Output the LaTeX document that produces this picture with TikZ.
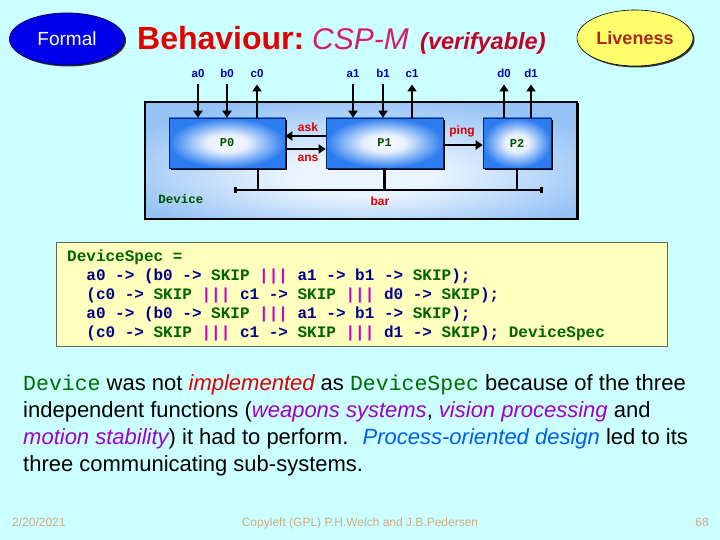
\documentclass[tikz,border=0pt]{standalone}
\usepackage{fontspec}
\setmainfont{Liberation Sans}
\setmonofont{Liberation Mono}
\usetikzlibrary{arrows.meta,shapes.geometric,shadows}
\definecolor{bg}{RGB}{204,255,255}
\definecolor{formalblue}{RGB}{0,0,235}
\definecolor{formalborder}{RGB}{0,0,90}
\definecolor{liveyellow}{RGB}{255,255,110}
\definecolor{livered}{RGB}{170,40,20}
\definecolor{titlered}{RGB}{228,0,0}
\definecolor{cspm}{RGB}{215,30,100}
\definecolor{verred}{RGB}{195,0,40}
\definecolor{navy}{RGB}{0,0,170}
\definecolor{pblue}{RGB}{45,125,240}
\definecolor{pborder}{RGB}{0,40,120}
\definecolor{devblue}{RGB}{150,195,245}
\definecolor{devlight}{RGB}{235,245,255}
\definecolor{pgreen}{RGB}{0,80,0}
\definecolor{lblred}{RGB}{220,0,0}
\definecolor{specyellow}{RGB}{255,255,190}
\definecolor{specgreen}{RGB}{0,100,0}
\definecolor{specnavy}{RGB}{0,0,140}
\definecolor{specmag}{RGB}{200,0,200}
\definecolor{bodygreen}{RGB}{0,110,0}
\definecolor{bodyred}{RGB}{220,0,0}
\definecolor{bodypurple}{RGB}{160,0,200}
\definecolor{bodyblue}{RGB}{0,95,230}
\definecolor{footc}{RGB}{210,170,130}
\pgfdeclareradialshading{pshade}{\pgfpoint{0bp}{0bp}}{color(0bp)=(white); color(9bp)=(white!88!pblue); color(25bp)=(pblue); color(50bp)=(pblue)}
\pgfdeclareradialshading{dshade}{\pgfpoint{0bp}{-8bp}}{color(0bp)=(devlight); color(8bp)=(devlight); color(30bp)=(devblue); color(50bp)=(devblue)}
\newcommand{\spG}[1]{\textcolor{specgreen}{#1}}
\newcommand{\spN}[1]{\textcolor{specnavy}{#1}}
\newcommand{\spM}[1]{\textcolor{specmag}{#1}}
\begin{document}
\begin{tikzpicture}[x=1pt,y=-1pt,
  pbox/.style={draw=pborder, line width=0.6pt, shading=pshade, minimum height=50pt, inner sep=0pt,
    font=\ttfamily\bfseries\fontsize{12}{14}\selectfont, text=pgreen,
    drop shadow={shadow xshift=2pt, shadow yshift=-2pt, fill=black, opacity=1}},
  chlab/.style={font=\bfseries\fontsize{11.5}{12}\selectfont, text=navy, inner sep=1pt, text height=8.5pt, text depth=0pt},
  chan/.style={line width=2.6pt, -{Triangle[width=9pt,length=7pt]}},
  wire/.style={line width=2.6pt},
  redlab/.style={font=\bfseries\fontsize{12}{14}\selectfont, text=lblred, inner sep=1pt},
  specline/.style={anchor=base west, inner sep=0pt, font=\ttfamily\bfseries\fontsize{16}{18}\selectfont},
  bodyline/.style={anchor=base west, inner sep=0pt, font=\fontsize{22}{24}\selectfont},
  foot/.style={inner sep=0pt, font=\fontsize{12}{14}\selectfont, text=footc}]
\fill[bg] (0,0) rectangle (720,540);
\useasboundingbox (0,0) rectangle (720,540);

% header
\node[ellipse, draw=formalborder, line width=0.8pt, fill=formalblue, minimum width=115pt, minimum height=52pt,
  inner sep=0pt, text=white, font=\fontsize{19}{22}\selectfont,
  drop shadow={shadow xshift=1.5pt, shadow yshift=-1.5pt, fill=black!80, opacity=1}] (formal) at (67,39) {Formal};
\node[anchor=base west, inner sep=0pt, text=titlered, font=\bfseries\fontsize{32}{36}\selectfont] (t1) at (137,50) {Behaviour:};
\node[anchor=base west, inner sep=0pt, text=cspm, font=\itshape\fontsize{30}{34}\selectfont] (t2) at (312,50) {CSP-M};
\node[anchor=base west, inner sep=0pt, text=verred, font=\bfseries\itshape\fontsize{23.5}{26}\selectfont] (t3) at (420,50) {(verifyable)};
\node[ellipse, draw=black, line width=0.6pt, fill=liveyellow, minimum width=116pt, minimum height=56pt,
  inner sep=0pt, text=livered, font=\bfseries\fontsize{18}{20}\selectfont,
  drop shadow={shadow xshift=1.5pt, shadow yshift=-1.5pt, fill=black!80, opacity=1}] (live) at (635,38) {Liveness};

% device
\node[draw=black, line width=1.5pt, shading=dshade, minimum width=432pt, minimum height=117pt, inner sep=0pt,
  drop shadow={shadow xshift=1.5pt, shadow yshift=-1.5pt, fill=black, opacity=1}] (dev) at (361,160.5) {};
\node[pbox, minimum width=116pt] (P0) at (227,143) {P0};
\node[pbox, minimum width=117pt] (P1) at (384.5,143) {P1};
\node[pbox, minimum width=68pt] (P2) at (517,143) {P2};

% channel labels
\node[chlab] (la0) at (198,73) {a0};
\node[chlab] (lb0) at (227,73) {b0};
\node[chlab] (lc0) at (257,73) {c0};
\node[chlab] (la1) at (353,73) {a1};
\node[chlab] (lb1) at (383,73) {b1};
\node[chlab] (lc1) at (412,73) {c1};
\node[chlab] (ld0) at (504,73) {d0};
\node[chlab] (ld1) at (531,73) {d1};

\draw[chan] ([yshift=-6pt]la0.south) -- (la0.south |- P0.north);
\draw[chan] ([yshift=-6pt]lb0.south) -- (lb0.south |- P0.north);
\draw[chan] (lc0.south |- P0.north) -- ([yshift=-6pt]lc0.south);
\draw[chan] ([yshift=-6pt]la1.south) -- (la1.south |- P1.north);
\draw[chan] ([yshift=-6pt]lb1.south) -- (lb1.south |- P1.north);
\draw[chan] (lc1.south |- P1.north) -- ([yshift=-6pt]lc1.south);
\draw[chan] (ld0.south |- P2.north) -- ([yshift=-6pt]ld0.south);
\draw[chan] (ld1.south |- P2.north) -- ([yshift=-6pt]ld1.south);

% internal channels
\draw[chan] ([yshift=7pt]P1.west) -- ([yshift=7pt]P0.east);
\draw[chan] ([yshift=-6pt]P0.east) -- ([yshift=-6pt]P1.west);
\draw[chan] ([yshift=-2pt]P1.east) -- ([yshift=-2pt]P2.west);
\node[redlab] (lask) at (308,127) {ask};
\node[redlab] (lans) at (308,158) {ans};
\node[redlab] (lping) at (462,131) {ping};

% bar
\coordinate (barL) at (234,190);
\coordinate (barR) at (543,190);
\draw[wire, {Square[length=3pt,width=5.5pt]}-{Square[length=3pt,width=5.5pt]}] (barL) -- (barR);
\draw[wire] ([xshift=31pt]P0.south) -- ([xshift=31pt]P0.south |- barL);
\draw[wire] (P1.south) -- (P1.south |- barL);
\draw[wire] (P2.south) -- (P2.south |- barL);
\node[redlab] (lbar) at (380,201) {bar};
\node[inner sep=0pt, font=\ttfamily\bfseries\fontsize{12.5}{14}\selectfont, text=pgreen] (ldev) at (181,199) {Device};

% spec box
\node[draw=black!60, line width=0.8pt, fill=specyellow, minimum width=611pt, minimum height=104pt, inner sep=0pt] (spec) at (361.5,294) {};
\node[specline] (s1) at (67,261) {\spG{DeviceSpec =}};
\node[specline] (s2) at (67,280) {\hphantom{xx}\spN{a0 -> (b0 ->} \spG{SKIP} \spM{|||} \spN{a1 -> b1 ->} \spG{SKIP}\spN{);}};
\node[specline] (s3) at (67,299) {\hphantom{xx}\spN{(c0 ->} \spG{SKIP} \spM{|||} \spN{c1 ->} \spG{SKIP} \spM{|||} \spN{d0 ->} \spG{SKIP}\spN{);}};
\node[specline] (s4) at (67,318) {\hphantom{xx}\spN{a0 -> (b0 ->} \spG{SKIP} \spM{|||} \spN{a1 -> b1 ->} \spG{SKIP}\spN{);}};
\node[specline] (s5) at (67,337) {\hphantom{xx}\spN{(c0 ->} \spG{SKIP} \spM{|||} \spN{c1 ->} \spG{SKIP} \spM{|||} \spN{d1 ->} \spG{SKIP}\spN{);} \spG{DeviceSpec}};

% body text
\node[bodyline] (b1) at (23,390) {{\ttfamily\fontsize{21.5}{24}\selectfont\color{bodygreen}Device} was not {\itshape\color{bodyred}implemented} as {\ttfamily\fontsize{21.5}{24}\selectfont\color{bodygreen}DeviceSpec} because of the three};
\node[bodyline] (b2) at (23,417) {independent functions ({\itshape\color{bodypurple}weapons systems}, {\itshape\color{bodypurple}vision processing} and};
\node[bodyline] (b3) at (23,444) {{\itshape\color{bodypurple}motion stability}) it had to perform.~ {\itshape\color{bodyblue}Process-oriented design} led to its};
\node[bodyline] (b4) at (23,471) {three communicating sub-systems.};

% footer
\node[foot, anchor=base west] (date) at (12,526) {2/20/2021};
\node[foot, anchor=base] (copy) at (360,526) {Copyleft (GPL) P.H.Welch and J.B.Pedersen};
\node[foot, anchor=base east] (page) at (709,526) {68};
\end{tikzpicture}
\end{document}
